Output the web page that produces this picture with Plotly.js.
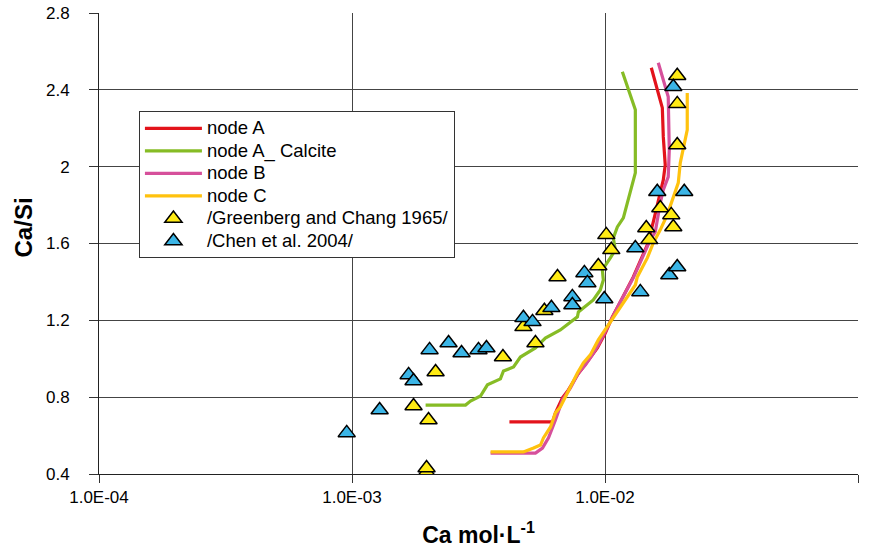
<!DOCTYPE html>
<html>
<head>
<meta charset="utf-8">
<script src="https://cdn.plot.ly/plotly-3.0.1.min.js"></script>
<style>html,body{margin:0;padding:0;background:#fff}#chart{width:882px;height:552px}</style>
</head>
<body>
<div id="chart"></div>
<script>
// node A
const nodeA_x = [4.19e-3, 6.20e-3, 6.37e-3, 6.79e-3, 7.17e-3, 7.78e-3, 8.21e-3, 8.75e-3, 9.33e-3, 1.003e-2, 1.069e-2, 1.149e-2, 1.294e-2, 1.379e-2, 1.47e-2, 1.552e-2, 1.624e-2, 1.70e-2, 1.73e-2, 1.70e-2, 1.685e-2, 1.524e-2];
const nodeA_y = [0.671, 0.671, 0.718, 0.796, 0.838, 0.916, 0.957, 1.004, 1.056, 1.134, 1.218, 1.296, 1.426, 1.509, 1.593, 1.713, 1.827, 1.931, 2.009, 2.155, 2.306, 2.515];
// node A_ Calcite
const calc_x = [1.954e-3, 2.81e-3, 2.94e-3, 3.22e-3, 3.43e-3, 3.86e-3, 3.97e-3, 4.35e-3, 4.63e-3, 5.31e-3, 5.81e-3, 6.66e-3, 7.78e-3, 7.85e-3, 8.99e-3, 9.58e-3, 9.85e-3, 9.76e-3, 1.05e-2, 1.098e-2, 1.079e-2, 1.119e-2, 1.182e-2, 1.237e-2, 1.318e-2, 1.318e-2, 1.171e-2];
const calc_y = [0.759, 0.759, 0.780, 0.806, 0.864, 0.895, 0.936, 0.957, 1.009, 1.056, 1.108, 1.150, 1.218, 1.244, 1.306, 1.358, 1.410, 1.463, 1.525, 1.567, 1.629, 1.686, 1.733, 1.827, 1.968, 2.296, 2.494];
// node B
const nodeB_x = [3.53e-3, 5.31e-3, 5.66e-3, 5.98e-3, 6.37e-3, 6.79e-3, 7.30e-3, 7.85e-3, 8.36e-3, 8.91e-3, 9.41e-3, 1.012e-2, 1.069e-2, 1.149e-2, 1.294e-2, 1.404e-2, 1.51e-2, 1.58e-2, 1.609e-2, 1.654e-2, 1.70e-2, 1.778e-2, 1.795e-2, 1.778e-2, 1.624e-2];
const nodeB_y = [0.509, 0.509, 0.535, 0.588, 0.681, 0.785, 0.848, 0.926, 0.968, 1.020, 1.072, 1.150, 1.213, 1.296, 1.421, 1.525, 1.619, 1.660, 1.723, 1.811, 1.879, 1.947, 2.088, 2.364, 2.541];
// node C
const nodeC_x = [3.53e-3, 4.76e-3, 5.22e-3, 5.56e-3, 5.71e-3, 6.09e-3, 6.37e-3, 6.66e-3, 6.97e-3, 7.43e-3, 7.78e-3, 8.21e-3, 8.75e-3, 9.41e-3, 1.021e-2, 1.079e-2, 1.149e-2, 1.259e-2, 1.318e-2, 1.342e-2, 1.47e-2, 1.552e-2, 1.654e-2, 1.762e-2, 1.845e-2, 1.948e-2, 1.984e-2, 2.039e-2, 2.114e-2, 2.114e-2];
const nodeC_y = [0.515, 0.515, 0.535, 0.551, 0.588, 0.645, 0.718, 0.749, 0.801, 0.874, 0.926, 0.978, 1.020, 1.098, 1.166, 1.218, 1.270, 1.343, 1.384, 1.426, 1.525, 1.603, 1.671, 1.749, 1.827, 1.916, 2.020, 2.103, 2.192, 2.384];
// /Greenberg and Chang 1965/
const green_x = [1.971e-3, 1.971e-3, 2.007e-3, 1.751e-3, 2.14e-3, 3.95e-3, 4.76e-3, 5.31e-3, 5.76e-3, 6.49e-3, 9.41e-3, 1.012e-2, 1.059e-2, 1.456e-2, 1.496e-2, 1.654e-2, 1.828e-2, 1.862e-2, 1.93e-2, 1.93e-2, 1.93e-2];
const green_y = [0.410, 0.431, 0.681, 0.754, 0.931, 1.009, 1.166, 1.082, 1.250, 1.426, 1.483, 1.645, 1.567, 1.681, 1.619, 1.785, 1.749, 1.686, 2.473, 2.327, 2.113];
// /Chen et al. 2004/
const chen_x = [9.53e-4, 1.286e-3, 1.674e-3, 1.751e-3, 2.026e-3, 2.408e-3, 2.71e-3, 3.162e-3, 3.40e-3, 4.76e-3, 5.17e-3, 6.14e-3, 7.43e-3, 7.43e-3, 8.29e-3, 8.52e-3, 9.94e-3, 1.318e-2, 1.379e-2, 1.609e-2, 2.057e-2, 1.795e-2, 1.93e-2, 1.862e-2];
const chen_y = [0.614, 0.733, 0.916, 0.884, 1.046, 1.082, 1.030, 1.046, 1.056, 1.213, 1.192, 1.265, 1.322, 1.280, 1.447, 1.395, 1.311, 1.577, 1.348, 1.869, 1.869, 1.436, 1.478, 2.416];
// series names and axis ticks
const seriesNames = ['node A', 'node A_ Calcite', 'node B', 'node C', '/Greenberg and Chang 1965/', '/Chen et al. 2004/'];
const xTickVals = [1e-4, 1e-3, 1e-2, 1e-1];
const xTickText = ['1.0E-04', '1.0E-03', '1.0E-02', '1.0E-01'];
const yTickVals = [0.4, 0.8, 1.2, 1.6, 2.0, 2.4, 2.8];
const yTickText = ['0.4', '0.8', '1.2', '1.6', '2', '2.4', '2.8'];

const FONT = 'Arial, "Liberation Sans", sans-serif';
const legName = n => '<span style="font-size:18.5px">' + n + '</span>';
const lineTrace = (x, y, name, color) => ({
  x, y, name: legName(name), type: 'scatter', mode: 'lines',
  line: {color, width: 3.2}
});
const markTrace = (x, y, name, color) => ({
  x, y, name: legName(name), type: 'scatter', mode: 'markers',
  marker: {symbol: 'triangle-up', size: 15, color, line: {color: '#000', width: 1.5}}
});

const data = [
  lineTrace(nodeA_x, nodeA_y, seriesNames[0], '#E3131B'),
  lineTrace(calc_x, calc_y, seriesNames[1], '#86BC25'),
  lineTrace(nodeB_x, nodeB_y, seriesNames[2], '#D6509B'),
  lineTrace(nodeC_x, nodeC_y, seriesNames[3], '#FFC20E'),
  markTrace(green_x, green_y, seriesNames[4], '#FFEB14'),
  markTrace(chen_x, chen_y, seriesNames[5], '#3BB5E6')
];

const layout = {
  width: 882, height: 552,
  margin: {l: 99, r: 24, t: 13, b: 78},
  paper_bgcolor: '#fff', plot_bgcolor: '#fff',
  font: {family: FONT, size: 15, color: '#000'},
  showlegend: true,
  legend: {
    x: 0.0526, y: 0.787, xanchor: 'left', yanchor: 'top',
    bgcolor: '#fff', bordercolor: '#333', borderwidth: 1,
    font: {family: FONT, size: 15, color: '#000'},
    itemwidth: 57,
    tracegroupgap: 0
  },
  xaxis: {
    type: 'log', range: [-4, -1],
    tickvals: xTickVals, ticktext: xTickText,
    ticks: 'outside', ticklen: 8, tickcolor: '#333',
    showgrid: true, gridcolor: '#444', gridwidth: 1,
    showline: true, linecolor: '#222', linewidth: 1, mirror: false,
    zeroline: false,
    tickfont: {family: FONT, size: 17, color: '#000'},
    title: {text: 'Ca mol·L<sup>-1</sup>', font: {family: FONT, size: 23, color: '#000', weight: 'bold'}, standoff: 20}
  },
  yaxis: {
    range: [0.4, 2.8],
    tickvals: yTickVals, ticktext: yTickText,
    ticks: 'outside', ticklen: 9, tickcolor: '#333',
    ticklabelstandoff: 16,
    showgrid: true, gridcolor: '#444', gridwidth: 1,
    showline: true, linecolor: '#222', linewidth: 1,
    zeroline: false,
    tickfont: {family: FONT, size: 17, color: '#000'}
  },
  annotations: [{
    text: 'Ca/Si', textangle: -90, showarrow: false,
    xref: 'paper', yref: 'paper', x: -0.1, y: 0.535,
    xanchor: 'center', yanchor: 'middle',
    font: {family: FONT, size: 24, color: '#000', weight: 'bold'}
  }]
};

Plotly.newPlot('chart', data, layout, {displayModeBar: false, staticPlot: true});
</script>
</body>
</html>
